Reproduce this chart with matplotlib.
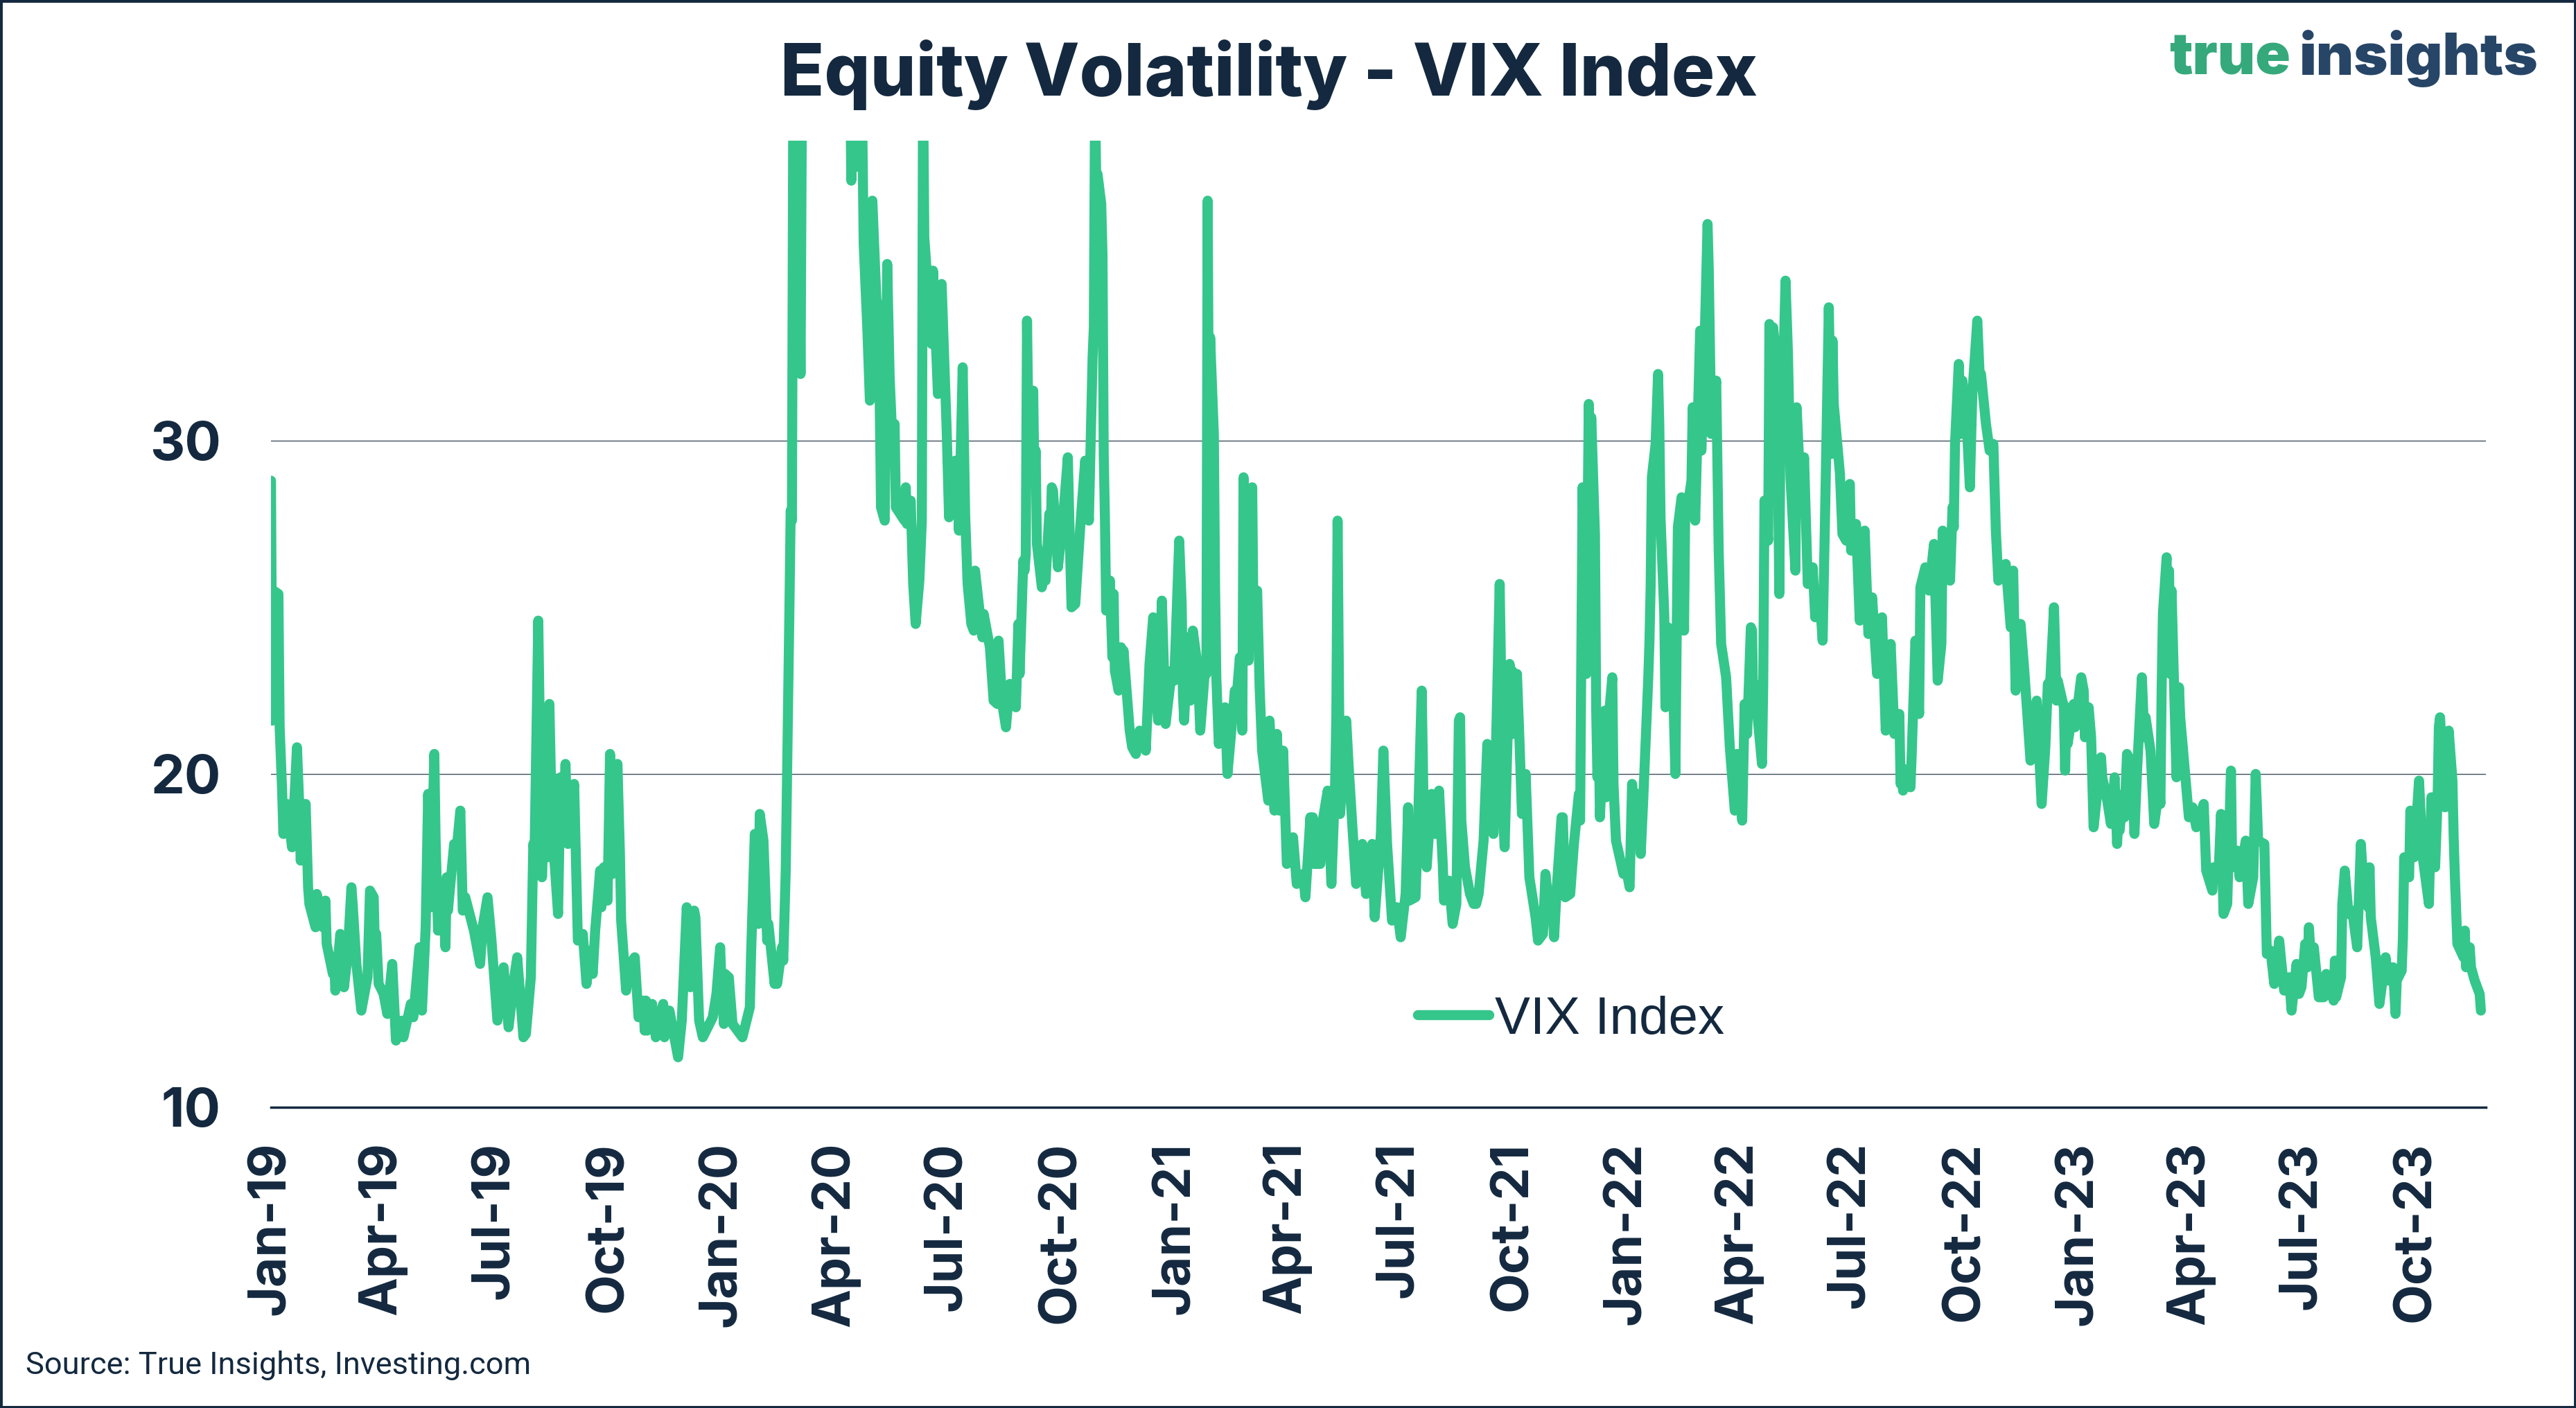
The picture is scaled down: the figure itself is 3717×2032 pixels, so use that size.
import matplotlib
matplotlib.use("Agg")
import matplotlib.pyplot as plt
import matplotlib.dates as mdates
from matplotlib.patches import Rectangle
import pandas as pd

# VIX closes (turning points), month-day per year
vix_2019 = [("01-01", 28.8), ("01-02", 21.6), ("01-03", 25.5), ("01-07", 25.4), ("01-08", 21.4), ("01-10", 19.5),
            ("01-11", 18.2), ("01-14", 19.1), ("01-17", 18.1), ("01-18", 17.8), ("01-22", 20.8), ("01-24", 18.9),
            ("01-25", 17.4), ("01-29", 19.1), ("01-31", 16.6), ("02-01", 16.1), ("02-06", 15.4), ("02-07", 16.4),
            ("02-12", 15.4), ("02-14", 16.2), ("02-15", 14.9), ("02-20", 14.0), ("02-21", 14.5), ("02-22", 13.5),
            ("02-26", 15.2), ("03-01", 13.6), ("03-04", 14.6), ("03-07", 16.6), ("03-08", 16.1), ("03-11", 14.3),
            ("03-15", 12.9), ("03-20", 13.9), ("03-22", 16.5), ("03-25", 16.3), ("03-26", 14.7), ("03-27", 15.2),
            ("03-29", 13.7), ("04-02", 13.4), ("04-05", 12.8), ("04-09", 14.3), ("04-12", 12.0), ("04-17", 12.6),
            ("04-18", 12.1), ("04-24", 13.1), ("04-26", 12.7), ("05-01", 14.8), ("05-03", 12.9), ("05-06", 15.4),
            ("05-08", 19.4), ("05-10", 16.0), ("05-13", 20.6), ("05-14", 18.1), ("05-16", 15.3), ("05-20", 16.3),
            ("05-22", 14.8), ("05-23", 16.9), ("05-24", 15.9), ("05-29", 17.9), ("05-30", 17.3), ("06-03", 18.9),
            ("06-05", 15.9), ("06-07", 16.3), ("06-14", 15.3), ("06-19", 14.3), ("06-21", 15.4), ("06-25", 16.3),
            ("06-28", 15.1), ("07-03", 12.6), ("07-08", 14.2), ("07-12", 12.4), ("07-17", 14.0), ("07-19", 14.5),
            ("07-24", 12.1), ("07-26", 12.2), ("07-30", 13.9), ("08-01", 17.9), ("08-02", 17.6), ("08-05", 24.6),
            ("08-07", 19.5), ("08-08", 16.9), ("08-09", 18.0), ("08-12", 21.1), ("08-13", 17.5), ("08-14", 22.1),
            ("08-16", 18.5), ("08-19", 16.9), ("08-21", 15.8), ("08-23", 19.9), ("08-26", 19.3), ("08-27", 20.3),
            ("08-29", 17.9), ("09-03", 19.7), ("09-06", 15.0), ("09-10", 15.2), ("09-13", 13.7), ("09-16", 14.7),
            ("09-18", 14.0), ("09-20", 15.3), ("09-24", 17.1), ("09-25", 16.0), ("09-27", 17.2), ("09-30", 16.2),
            ("10-02", 20.6), ("10-04", 17.0), ("10-08", 20.3), ("10-10", 17.6), ("10-11", 15.6), ("10-15", 13.5),
            ("10-18", 14.3), ("10-22", 14.5), ("10-25", 12.7), ("10-29", 13.2), ("10-30", 12.3), ("10-31", 13.2),
            ("11-01", 12.3), ("11-05", 13.1), ("11-08", 12.1), ("11-14", 13.1), ("11-15", 12.1), ("11-19", 12.9),
            ("11-22", 12.3), ("11-26", 11.5), ("11-29", 12.6), ("12-03", 16.0), ("12-06", 13.6), ("12-09", 15.9),
            ("12-10", 15.7), ("12-13", 12.6), ("12-16", 12.1), ("12-24", 12.7), ("12-27", 13.4), ("12-30", 14.8),
            ("12-31", 13.8)]

vix_2020 = [("01-02", 12.5), ("01-03", 14.0), ("01-06", 13.9), ("01-09", 12.5), ("01-13", 12.3), ("01-17", 12.1),
            ("01-23", 13.0), ("01-24", 14.6), ("01-27", 18.2), ("01-28", 16.3), ("01-30", 15.5), ("01-31", 18.8),
            ("02-03", 18.0), ("02-06", 15.0), ("02-07", 15.5), ("02-12", 13.7), ("02-13", 14.2), ("02-14", 13.7),
            ("02-18", 14.8), ("02-19", 14.4), ("02-21", 17.1), ("02-24", 25.0), ("02-25", 27.9), ("02-26", 27.6),
            ("02-27", 39.2), ("02-28", 40.1), ("03-02", 33.4), ("03-03", 36.8), ("03-04", 32.0), ("03-05", 39.6),
            ("03-09", 54.5), ("03-10", 47.3), ("03-12", 75.5), ("03-13", 57.8), ("03-16", 82.7), ("03-18", 76.5),
            ("03-20", 66.0), ("03-24", 61.7), ("03-27", 65.5), ("03-31", 53.5), ("04-01", 57.1), ("04-03", 46.8),
            ("04-06", 45.2), ("04-09", 41.7), ("04-13", 41.2), ("04-14", 37.8), ("04-15", 40.8), ("04-17", 38.2),
            ("04-21", 45.4), ("04-24", 35.9), ("04-27", 33.3), ("04-29", 31.2), ("05-01", 37.2), ("05-05", 33.6),
            ("05-06", 34.1), ("05-08", 28.0), ("05-11", 27.6), ("05-13", 35.3), ("05-15", 31.9), ("05-18", 29.3),
            ("05-19", 30.5), ("05-20", 28.0), ("05-27", 27.6), ("05-28", 28.6), ("05-29", 27.5), ("06-01", 28.2),
            ("06-03", 25.7), ("06-05", 24.5), ("06-08", 25.8), ("06-10", 27.6), ("06-11", 40.8), ("06-12", 36.1),
            ("06-18", 32.9), ("06-19", 35.1), ("06-23", 31.4), ("06-24", 33.8), ("06-25", 32.2), ("06-26", 34.7),
            ("06-30", 30.4), ("07-02", 27.7), ("07-07", 29.4), ("07-08", 28.1), ("07-09", 29.3), ("07-10", 27.3),
            ("07-13", 32.2), ("07-15", 27.8), ("07-17", 25.7), ("07-20", 24.5), ("07-22", 24.3), ("07-23", 26.1),
            ("07-29", 24.1), ("07-30", 24.8), ("08-04", 23.8), ("08-07", 22.2), ("08-10", 22.1), ("08-11", 24.0),
            ("08-14", 22.1), ("08-17", 21.4), ("08-20", 22.7), ("08-25", 22.0), ("08-27", 24.5), ("08-28", 23.0),
            ("08-31", 26.4), ("09-01", 26.1), ("09-02", 26.6), ("09-03", 33.6), ("09-04", 30.8), ("09-08", 31.5),
            ("09-09", 28.8), ("09-10", 29.7), ("09-11", 26.9), ("09-15", 25.6), ("09-17", 26.5), ("09-18", 25.8),
            ("09-21", 27.8), ("09-22", 26.9), ("09-23", 28.6), ("09-24", 28.5), ("09-28", 26.2), ("10-02", 27.6),
            ("10-06", 29.5), ("10-08", 26.4), ("10-09", 25.0), ("10-12", 25.1), ("10-16", 27.4), ("10-20", 29.4),
            ("10-23", 27.6), ("10-26", 32.5), ("10-27", 33.4), ("10-28", 40.3), ("10-29", 37.6), ("10-30", 38.0),
            ("11-02", 37.1), ("11-03", 35.6), ("11-04", 29.6), ("11-05", 27.6), ("11-06", 24.9), ("11-09", 25.8),
            ("11-11", 23.5), ("11-12", 25.4), ("11-13", 23.1), ("11-16", 22.5), ("11-18", 23.8), ("11-19", 23.1),
            ("11-20", 23.7), ("11-25", 21.3), ("11-27", 20.8), ("11-30", 20.6), ("12-03", 21.3), ("12-04", 20.8),
            ("12-07", 21.3), ("12-08", 20.7), ("12-11", 23.3), ("12-14", 24.7), ("12-16", 22.5), ("12-18", 21.6),
            ("12-21", 25.2), ("12-24", 21.5), ("12-29", 23.1), ("12-31", 22.8)]

vix_2021 = [("01-04", 27.0), ("01-06", 25.1), ("01-07", 22.4), ("01-08", 21.6), ("01-11", 24.1), ("01-13", 22.2),
            ("01-15", 24.3), ("01-19", 23.2), ("01-21", 21.3), ("01-25", 23.2), ("01-26", 23.0), ("01-27", 37.2),
            ("01-28", 30.2), ("01-29", 33.1), ("02-01", 30.2), ("02-02", 25.6), ("02-03", 22.9), ("02-05", 20.9),
            ("02-10", 22.0), ("02-12", 20.0), ("02-18", 22.5), ("02-19", 22.1), ("02-22", 23.5), ("02-24", 21.3),
            ("02-25", 28.9), ("02-26", 28.0), ("03-01", 23.4), ("03-03", 26.7), ("03-04", 28.6), ("03-05", 24.7),
            ("03-08", 25.5), ("03-10", 22.6), ("03-12", 20.7), ("03-17", 19.2), ("03-18", 21.6), ("03-22", 18.9),
            ("03-24", 21.2), ("03-26", 18.9), ("03-29", 20.7), ("04-01", 17.3), ("04-06", 18.1), ("04-09", 16.7),
            ("04-14", 17.0), ("04-16", 16.3), ("04-20", 18.7), ("04-21", 17.5), ("04-22", 18.7), ("04-23", 17.3),
            ("04-28", 17.3), ("04-30", 18.6), ("05-04", 19.5), ("05-07", 16.7), ("05-10", 19.7), ("05-11", 21.8),
            ("05-12", 27.6), ("05-13", 23.1), ("05-14", 18.8), ("05-19", 21.6), ("05-21", 20.2), ("05-24", 18.4),
            ("05-27", 16.7), ("06-01", 17.9), ("06-04", 16.4), ("06-09", 17.9), ("06-11", 15.7), ("06-16", 18.2),
            ("06-18", 20.7), ("06-21", 17.9), ("06-25", 15.6), ("06-29", 16.0), ("07-02", 15.1), ("07-06", 16.4),
            ("07-08", 19.0), ("07-09", 16.2), ("07-14", 16.3), ("07-16", 18.5), ("07-19", 22.5), ("07-21", 17.9),
            ("07-23", 17.2), ("07-27", 19.4), ("07-28", 18.3), ("07-30", 18.2), ("08-02", 19.5), ("08-05", 17.3),
            ("08-06", 16.2), ("08-10", 16.8), ("08-13", 15.5), ("08-16", 16.1), ("08-18", 21.6), ("08-19", 21.7),
            ("08-20", 18.6), ("08-23", 17.2), ("08-27", 16.4), ("08-30", 16.1), ("09-01", 16.1), ("09-03", 16.4),
            ("09-07", 18.0), ("09-08", 19.0), ("09-10", 20.9), ("09-14", 19.5), ("09-15", 18.2), ("09-17", 20.8),
            ("09-20", 25.7), ("09-22", 20.9), ("09-23", 18.6), ("09-24", 17.8), ("09-28", 23.3), ("09-29", 22.6),
            ("09-30", 23.1), ("10-01", 21.2), ("10-04", 23.0), ("10-06", 21.0), ("10-08", 18.8), ("10-11", 20.0),
            ("10-14", 16.9), ("10-19", 15.7), ("10-21", 15.0), ("10-25", 15.2), ("10-27", 17.0), ("10-29", 16.3),
            ("11-01", 16.4), ("11-03", 15.1), ("11-05", 16.5), ("11-09", 18.7), ("11-10", 18.7), ("11-12", 16.3),
            ("11-16", 16.4), ("11-19", 17.9), ("11-23", 19.4), ("11-24", 18.6), ("11-26", 28.6), ("11-29", 23.0),
            ("11-30", 27.2), ("12-01", 31.1), ("12-02", 28.0), ("12-03", 30.7), ("12-06", 27.2), ("12-07", 21.9),
            ("12-08", 19.9), ("12-09", 21.6), ("12-10", 18.7), ("12-14", 21.9), ("12-15", 19.3), ("12-17", 21.6),
            ("12-20", 22.9), ("12-21", 19.7), ("12-23", 18.0), ("12-29", 17.0), ("12-31", 17.2)]

vix_2022 = [("01-03", 16.6), ("01-05", 19.7), ("01-07", 18.8), ("01-10", 19.4), ("01-12", 17.6), ("01-14", 19.2),
            ("01-18", 22.8), ("01-19", 23.9), ("01-20", 25.6), ("01-21", 28.9), ("01-24", 29.9), ("01-26", 32.0),
            ("01-27", 30.5), ("01-28", 27.7), ("01-31", 24.8), ("02-01", 22.0), ("02-03", 24.4), ("02-07", 22.9),
            ("02-09", 20.0), ("02-10", 23.9), ("02-11", 27.4), ("02-14", 28.3), ("02-16", 24.3), ("02-17", 28.1),
            ("02-18", 27.8), ("02-22", 28.8), ("02-23", 31.0), ("02-25", 27.6), ("03-01", 33.3), ("03-02", 29.7),
            ("03-04", 32.0), ("03-07", 36.5), ("03-08", 35.1), ("03-10", 30.2), ("03-14", 31.8), ("03-16", 26.7),
            ("03-18", 23.9), ("03-22", 22.9), ("03-25", 20.8), ("03-29", 18.9), ("03-31", 20.6), ("04-04", 18.6),
            ("04-06", 22.1), ("04-08", 21.2), ("04-11", 24.4), ("04-12", 24.3), ("04-13", 21.8), ("04-14", 22.7),
            ("04-20", 20.3), ("04-21", 22.7), ("04-22", 28.2), ("04-25", 27.0), ("04-26", 33.5), ("04-28", 30.0),
            ("04-29", 33.4), ("05-02", 32.3), ("05-04", 25.4), ("05-05", 31.2), ("05-06", 30.2), ("05-09", 34.8),
            ("05-11", 32.6), ("05-13", 28.9), ("05-17", 26.1), ("05-18", 31.0), ("05-20", 29.4), ("05-23", 28.5),
            ("05-24", 29.5), ("05-27", 25.7), ("05-31", 26.2), ("06-02", 24.7), ("06-06", 25.1), ("06-08", 24.0),
            ("06-10", 27.8), ("06-13", 34.0), ("06-15", 29.6), ("06-16", 33.0), ("06-17", 31.1), ("06-22", 29.0),
            ("06-24", 27.2), ("06-27", 27.0), ("06-28", 28.4), ("06-30", 28.7), ("07-01", 26.7), ("07-05", 27.5),
            ("07-08", 24.6), ("07-12", 27.3), ("07-15", 24.2), ("07-18", 25.3), ("07-22", 23.0), ("07-26", 24.7),
            ("07-29", 21.3), ("08-02", 23.9), ("08-05", 21.2), ("08-09", 21.8), ("08-10", 19.7), ("08-11", 20.2),
            ("08-12", 19.5), ("08-15", 20.0), ("08-18", 19.6), ("08-19", 20.6), ("08-22", 24.0), ("08-25", 21.8),
            ("08-26", 25.6), ("08-30", 26.2), ("09-02", 25.5), ("09-06", 26.9), ("09-09", 22.8), ("09-12", 23.9),
            ("09-13", 27.3), ("09-14", 26.2), ("09-19", 25.8), ("09-21", 28.0), ("09-22", 27.4), ("09-23", 29.9),
            ("09-26", 32.3), ("09-28", 30.2), ("09-29", 31.8), ("10-03", 30.1), ("10-05", 28.6), ("10-07", 31.4),
            ("10-11", 33.6), ("10-13", 31.9), ("10-14", 32.0), ("10-18", 30.5), ("10-21", 29.7), ("10-24", 29.9),
            ("10-26", 27.3), ("10-28", 25.8), ("11-03", 26.3), ("11-07", 24.4), ("11-09", 26.1), ("11-11", 22.5),
            ("11-15", 24.5), ("11-18", 23.1), ("11-23", 20.4), ("11-28", 22.2), ("11-30", 20.6), ("12-02", 19.1),
            ("12-05", 20.8), ("12-07", 22.7), ("12-09", 22.8), ("12-12", 25.0), ("12-14", 22.2), ("12-15", 22.8),
            ("12-20", 22.0), ("12-21", 20.1), ("12-22", 22.0), ("12-23", 20.9), ("12-28", 22.1), ("12-29", 21.4),
            ("12-30", 21.7)]

vix_2023 = [("01-03", 22.9), ("01-05", 22.5), ("01-06", 21.1), ("01-09", 22.0), ("01-11", 21.1), ("01-13", 18.4),
            ("01-19", 20.5), ("01-20", 19.9), ("01-24", 19.2), ("01-27", 18.5), ("01-30", 19.9), ("02-01", 17.9),
            ("02-02", 18.7), ("02-03", 18.3), ("02-06", 19.4), ("02-07", 18.7), ("02-09", 20.6), ("02-13", 20.3),
            ("02-15", 18.2), ("02-17", 20.0), ("02-21", 22.9), ("02-23", 21.1), ("02-24", 21.7), ("02-28", 20.7),
            ("03-03", 18.5), ("03-07", 19.6), ("03-08", 19.1), ("03-09", 22.6), ("03-10", 24.8), ("03-13", 26.5),
            ("03-14", 23.7), ("03-15", 26.1), ("03-16", 23.0), ("03-17", 25.5), ("03-21", 19.9), ("03-23", 22.6),
            ("03-24", 21.7), ("03-28", 20.0), ("03-31", 18.7), ("04-03", 19.0), ("04-06", 18.4), ("04-12", 19.1),
            ("04-14", 17.1), ("04-19", 16.5), ("04-20", 17.2), ("04-24", 17.0), ("04-26", 18.8), ("04-28", 15.8),
            ("05-01", 16.1), ("05-04", 20.1), ("05-05", 17.2), ("05-09", 17.7), ("05-11", 16.9), ("05-16", 18.0),
            ("05-18", 16.1), ("05-22", 16.9), ("05-24", 20.0), ("05-26", 18.0), ("05-31", 17.9), ("06-02", 14.6),
            ("06-05", 14.7), ("06-08", 13.7), ("06-12", 15.0), ("06-16", 13.5), ("06-20", 13.9), ("06-22", 12.9),
            ("06-26", 14.3), ("06-28", 13.4), ("06-30", 13.6), ("07-03", 14.9), ("07-05", 14.2), ("07-06", 15.4),
            ("07-07", 14.8), ("07-10", 14.8), ("07-14", 13.3), ("07-18", 13.3), ("07-20", 14.0), ("07-26", 13.2),
            ("07-27", 14.4), ("07-28", 13.3), ("08-01", 13.9), ("08-02", 16.1), ("08-04", 17.1), ("08-07", 15.8),
            ("08-10", 15.9), ("08-14", 14.8), ("08-17", 17.9), ("08-18", 17.3), ("08-23", 16.0), ("08-24", 17.2),
            ("08-25", 15.7), ("08-29", 14.5), ("09-01", 13.1), ("09-06", 14.5), ("09-08", 13.8), ("09-12", 14.2),
            ("09-14", 12.8), ("09-15", 13.8), ("09-19", 14.1), ("09-20", 15.1), ("09-21", 17.5), ("09-25", 16.9),
            ("09-26", 18.9), ("09-29", 17.5), ("10-03", 19.8), ("10-06", 17.5), ("10-11", 16.1), ("10-13", 19.3),
            ("10-16", 17.2), ("10-18", 19.2), ("10-19", 21.4), ("10-20", 21.7), ("10-24", 19.0), ("10-26", 20.7),
            ("10-27", 21.3), ("10-30", 19.8), ("10-31", 18.1), ("11-01", 16.9), ("11-03", 14.9), ("11-08", 14.5),
            ("11-09", 15.3), ("11-10", 14.2), ("11-13", 14.8), ("11-14", 14.2), ("11-17", 13.8), ("11-21", 13.4),
            ("11-22", 12.9)]

years = {2019: vix_2019, 2020: vix_2020, 2021: vix_2021, 2022: vix_2022, 2023: vix_2023}
rows = [(pd.Timestamp(f"{y}-{md}"), v) for y, pairs in years.items() for md, v in pairs]
df = pd.DataFrame(rows, columns=["date", "vix"]).sort_values("date")

navy = "#14293f"
green = "#35c68b"

plt.rcParams["font.family"] = ["Inter", "DejaVu Sans"]
plt.rcParams["font.weight"] = "bold"

fig = plt.figure(figsize=(18.585, 10.16), dpi=200)
ax = fig.add_axes([0.1052, 0.2136, 0.9650 - 0.1052, 0.9001 - 0.2136])

ax.plot(df["date"], df["vix"], color=green, lw=5.2, solid_joinstyle="round",
        solid_capstyle="round", label="VIX Index")

ax.set_ylim(10, 39)
ax.set_xlim(pd.Timestamp("2019-01-01"), pd.Timestamp("2023-11-26"))
ax.set_yticks([10, 20, 30])
ax.yaxis.grid(True, color="#3f4d5c", lw=0.5)
ax.set_axisbelow(True)

ax.xaxis.set_major_locator(mdates.MonthLocator(bymonth=[1, 4, 7, 10]))
ax.xaxis.set_major_formatter(mdates.DateFormatter("%b-%y"))
ax.tick_params(axis="x", length=0, pad=18, labelsize=27, labelcolor=navy, rotation=90)
ax.tick_params(axis="y", length=0, pad=26, labelsize=28, labelcolor=navy)

for s in ["top", "right", "left"]:
    ax.spines[s].set_visible(False)
ax.spines["bottom"].set_color(navy)
ax.spines["bottom"].set_linewidth(1.25)

leg = ax.legend(loc="center", bbox_to_anchor=(0.587, 0.09), frameon=False,
                handlelength=1.35, handletextpad=0.1,
                prop={"family": "Liberation Sans", "weight": "normal", "size": 27.5})
for t in leg.get_texts():
    t.set_color(navy)

fig.text(0.4926, 0.932, "Equity Volatility - VIX Index", ha="center", va="baseline",
         fontsize=37.4, color=navy, fontweight="heavy")

# logo
fig.text(3305 / 3717, 1 - 108 / 2032, "true", ha="right", va="baseline",
         fontsize=30.2, color="#35a97b", fontweight="black")
fig.text(3318 / 3717, 1 - 108 / 2032, "insights", ha="left", va="baseline",
         fontsize=30.2, color="#274566", fontweight="black")

fig.text(0.01, 1 - 1983 / 2032, "Source: True Insights, Investing.com", ha="left", va="baseline",
         fontsize=16.3, color=navy, fontweight="normal", family="Roboto")

fig.patches.append(Rectangle((0, 0), 1, 1, transform=fig.transFigure, fill=False,
                             edgecolor=navy, lw=2.5))

fig.savefig("out.png", dpi=200)
